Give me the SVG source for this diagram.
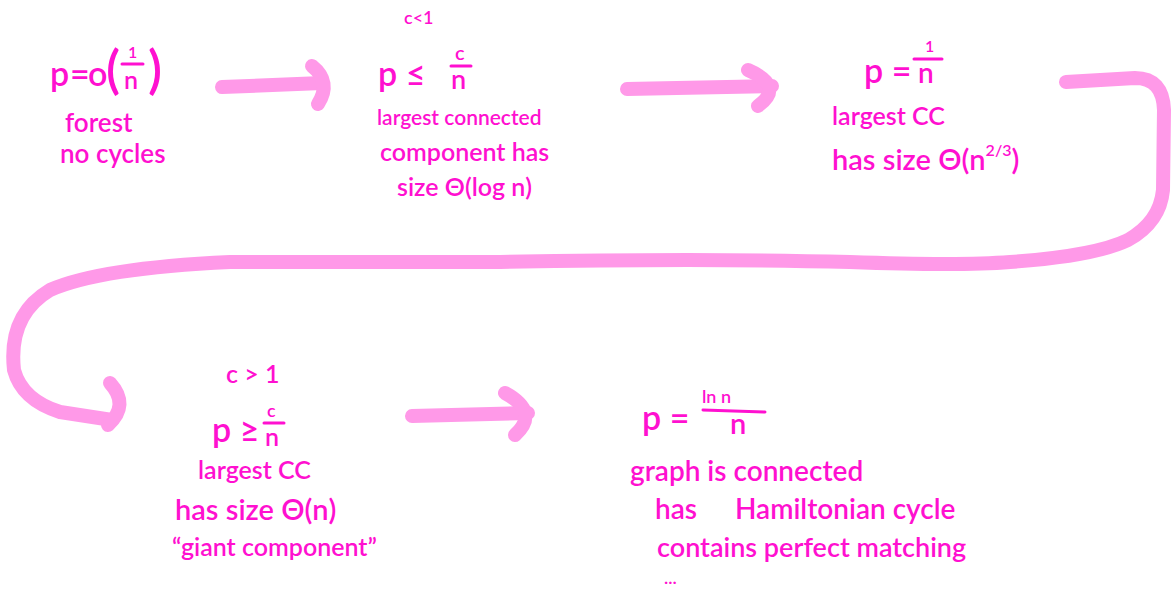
<svg xmlns="http://www.w3.org/2000/svg" width="1175" height="590" viewBox="0 0 1175 590">
  <style>
    .t { font-family: "Lato", "Liberation Sans", sans-serif; fill: #ff10d0; font-weight: 600; }
    .m { font-size: 34px; }
    .s { font-size: 25px; }
    .l { font-size: 29px; }
    .x { font-size: 18px; }
    .bar { stroke: #ff10d0; stroke-width: 3; stroke-linecap: round; }
    .arrow { fill: none; stroke: #ff99e8; stroke-width: 14; stroke-linecap: round; stroke-linejoin: round; }
  </style>
  <rect width="1175" height="590" fill="#ffffff"/>

  <!-- connectors -->
  <g id="connectors">
    <path class="arrow" d="M222,87 L322,83"/>
    <path class="arrow" d="M312,66 Q332,82 318,104"/>
    <path class="arrow" d="M627,89 L772,86"/>
    <path class="arrow" d="M748,70 Q785,86 758,106"/>
    <path class="arrow" d="M1066,82 L1135,78 Q1163,78 1164,110 L1163,190 Q1160,222 1128,240 Q1095,256 1010,262 Q960,266 850,262 Q700,258 500,262 L230,262 Q100,268 50,290 Q8,315 14,370 Q22,400 60,412 L112,420"/>
    <path class="arrow" d="M110,383 Q130,405 108,425"/>
    <path class="arrow" d="M412,416 L528,413"/>
    <path class="arrow" d="M505,393 Q540,412 515,435"/>
  </g>

  <!-- p = o(1/n) -->
  <g id="node-sparse">
    <text class="t m" x="50" y="86">p</text>
    <text class="t m" x="70" y="86">=</text>
    <text class="t m" x="88" y="86">o</text>
    <text class="t" x="106" y="88" font-size="52" font-weight="400">(</text>
    <text class="t" x="128" y="58" font-size="16">1</text>
    <line class="bar" x1="122" y1="64" x2="143" y2="64"/>
    <text class="t s" x="124" y="89">n</text>
    <text class="t" x="148" y="88" font-size="52" font-weight="400">)</text>
    <text class="t" x="65" y="132" font-size="26">forest</text>
    <text class="t" x="60" y="163" font-size="26">no cycles</text>
  </g>

  <!-- p <= c/n, c < 1 -->
  <g id="node-subcritical">
    <text class="t x" x="404" y="24">c&lt;1</text>
    <text class="t m" x="378" y="86">p ≤</text>
    <text class="t" x="455" y="60" font-size="20">c</text>
    <line class="bar" x1="451" y1="66" x2="471" y2="66"/>
    <text class="t" x="451" y="89" font-size="27">n</text>
    <text class="t" x="377" y="125" font-size="21">largest connected</text>
    <text class="t s" x="380" y="161">component has</text>
    <text class="t s" x="397" y="196">size Θ(log n)</text>
  </g>

  <!-- p = 1/n -->
  <g id="node-critical">
    <text class="t m" x="864" y="83">p =</text>
    <text class="t" x="925" y="52" font-size="16">1</text>
    <line class="bar" x1="914" y1="59" x2="942" y2="59"/>
    <text class="t" x="918" y="83" font-size="28">n</text>
    <text class="t s" x="832" y="125">largest CC</text>
    <text class="t l" x="832" y="170">has size Θ(n<tspan font-size="16" dy="-14">2/3</tspan><tspan dy="14">)</tspan></text>
  </g>

  <!-- p >= c/n, c > 1 -->
  <g id="node-supercritical">
    <text class="t s" x="226" y="383">c &gt; 1</text>
    <text class="t m" x="212" y="442">p ≥</text>
    <text class="t x" x="267" y="417">c</text>
    <line class="bar" x1="264" y1="423" x2="284" y2="423"/>
    <text class="t s" x="265" y="446">n</text>
    <text class="t s" x="198" y="479">largest CC</text>
    <text class="t l" x="175" y="520">has size Θ(n)</text>
    <text class="t s" x="172" y="556">“giant component”</text>
  </g>

  <!-- p = ln n / n -->
  <g id="node-connected">
    <text class="t m" x="642" y="430">p =</text>
    <text class="t x" x="702" y="403">ln n</text>
    <line class="bar" x1="703" y1="410" x2="765" y2="412"/>
    <text class="t l" x="730" y="434">n</text>
    <text class="t" x="630" y="481" font-size="28">graph is connected</text>
    <text class="t" x="655" y="519" font-size="28">has</text>
    <text class="t" x="735" y="519" font-size="28">Hamiltonian cycle</text>
    <text class="t" x="657" y="557" font-size="27">contains perfect matching</text>
    <text class="t x" x="664" y="584">...</text>
  </g>
</svg>
